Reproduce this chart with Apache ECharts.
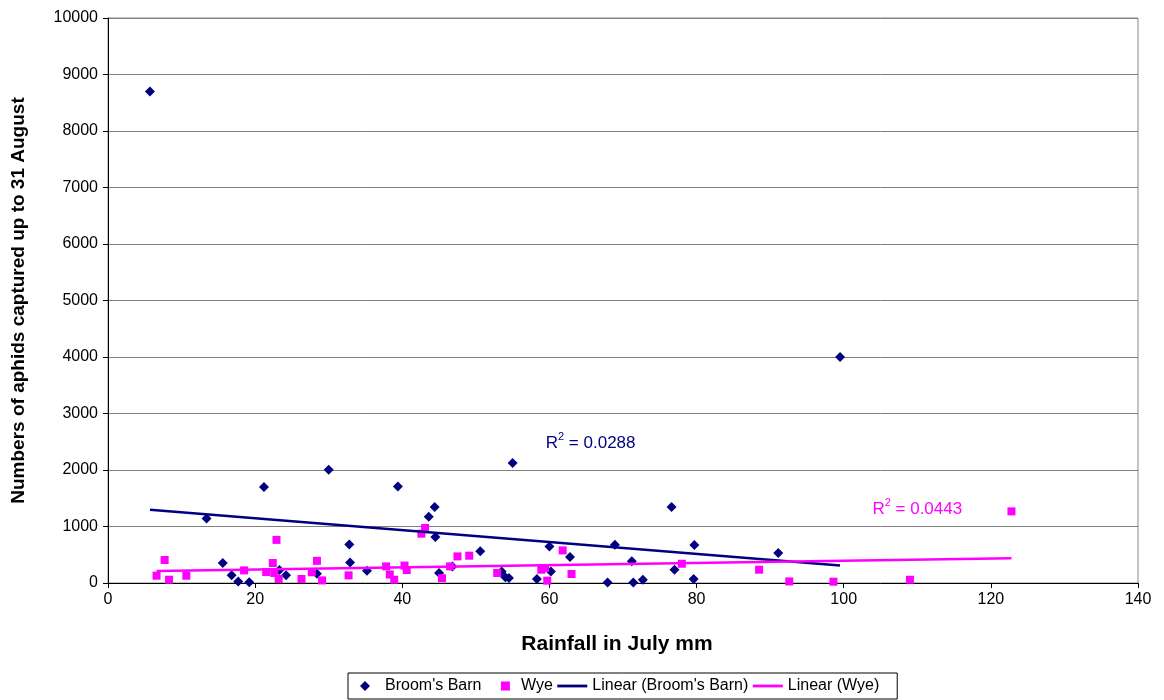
<!DOCTYPE html>
<html>
<head>
<meta charset="utf-8">
<script src="https://cdn.jsdelivr.net/npm/echarts@6/dist/echarts.min.js"></script>
<style>
html,body{margin:0;padding:0;background:#fff;}
#chart{width:1164px;height:700px;}
</style>
</head>
<body>
<div id="chart"></div>
<script>
// Rainfall in July (mm) and aphid counts, Broom's Barn
const broomsX = [5.7, 13.4, 15.6, 16.8, 17.7, 19.2, 21.2, 23.3, 24.2, 28.4, 30.0, 32.8, 32.9, 35.2, 39.4, 43.6, 44.4, 44.5, 45.0, 46.8, 50.6, 53.5, 54.0, 54.5, 55.0, 58.3, 60.0, 60.2, 62.8, 67.9, 68.9, 71.2, 71.4, 72.7, 76.6, 77.0, 79.7, 79.6, 91.1, 99.5];
const broomsY = [8700, 1140, 354, 138, 28, 14, 1700, 229, 138, 165, 2005, 683, 365, 218, 1710, 1173, 1345, 814, 177, 294, 560, 205, 100, 88, 2124, 71, 648, 205, 460, 10, 675, 383, 11, 58, 1345, 235, 672, 71, 531, 4000];
// Wye
const wyeX = [6.6, 7.7, 8.3, 10.65, 18.5, 21.5, 22.4, 22.6, 22.9, 23.2, 26.3, 27.7, 28.4, 29.1, 32.7, 37.8, 38.3, 38.9, 40.3, 40.6, 42.6, 43.1, 45.4, 46.5, 47.5, 49.1, 52.9, 58.9, 59.4, 59.7, 61.8, 63.0, 78.0, 88.5, 92.6, 98.6, 109.0, 122.8];
const wyeY = [129, 407, 58, 129, 223, 194, 354, 177, 763, 71, 71, 190, 392, 46, 135, 294, 150, 58, 309, 229, 873, 973, 85, 294, 471, 483, 177, 235, 265, 41, 577, 159, 341, 235, 28, 23, 58, 1268];
const seriesNames = ["Broom's Barn", "Wye", "Linear (Broom's Barn)", "Linear (Wye)"];
const r2Values = ["0.0288", "0.0443"];
const xTicks = [0, 20, 40, 60, 80, 100, 120, 140];
const yTicks = [0, 1000, 2000, 3000, 4000, 5000, 6000, 7000, 8000, 9000, 10000];

function pairs(xs, ys) { return xs.map((x, i) => [x, ys[i]]); }
function linFit(xs, ys) {
  const n = xs.length;
  let sx = 0, sy = 0, sxx = 0, sxy = 0;
  for (let i = 0; i < n; i++) { sx += xs[i]; sy += ys[i]; sxx += xs[i] * xs[i]; sxy += xs[i] * ys[i]; }
  const b = (n * sxy - sx * sy) / (n * sxx - sx * sx);
  const a = (sy - b * sx) / n;
  const x0 = Math.min(...xs), x1 = Math.max(...xs);
  return [[x0, a + b * x0], [x1, a + b * x1]];
}

const NAVY = '#000080', MAG = '#FF00FF';
const FONT = '"Liberation Sans", Arial, sans-serif';
// legend icons: invisible move-to points fix the 30x10 box so the shapes sit where wanted
const ICON_DIAMOND = 'path://M0,0M30,10M15,0L20,5L15,10L10,5Z';
const ICON_SQUARE = 'path://M0,0M30,10M15,0.5L24,0.5L24,9.5L15,9.5Z';
const ICON_LINE = 'path://M0,0M30,10M0,3.6L30,3.6L30,6.4L0,6.4Z';

const chart = echarts.init(document.getElementById('chart'), null, {renderer: 'canvas'});
chart.setOption({
  animation: false,
  backgroundColor: '#fff',
  textStyle: {fontFamily: FONT, color: '#000'},
  grid: {left: 108, right: 26, top: 18, bottom: 117, show: true, borderColor: '#888', borderWidth: 1},
  xAxis: {
    type: 'value', min: xTicks[0], max: xTicks[xTicks.length - 1], interval: 20,
    name: 'Rainfall in July mm', nameLocation: 'middle', nameGap: 51,
    nameTextStyle: {fontFamily: FONT, fontWeight: 'bold', fontSize: 21, color: '#000', padding: [0, 12, 0, 0]},
    axisLine: {show: true, lineStyle: {color: '#000', width: 1}},
    axisTick: {show: true, inside: false, length: 5, lineStyle: {color: '#000'}},
    axisLabel: {fontFamily: FONT, fontSize: 16, color: '#000', margin: 9},
    splitLine: {show: false}
  },
  yAxis: {
    type: 'value', min: yTicks[0], max: yTicks[yTicks.length - 1], interval: 1000,
    name: 'Numbers of aphids captured up to 31 August', nameLocation: 'middle', nameGap: 80,
    nameTextStyle: {fontFamily: FONT, fontWeight: 'bold', fontSize: 19, color: '#000'},
    axisLine: {show: true, lineStyle: {color: '#000', width: 1}},
    axisTick: {show: true, inside: false, length: 5, lineStyle: {color: '#000'}},
    axisLabel: {fontFamily: FONT, fontSize: 16, color: '#000', margin: 10, formatter: v => String(v)},
    splitLine: {show: true, lineStyle: {color: '#808080', width: 1}}
  },
  legend: {
    bottom: 1, left: 348,
    data: [
      {name: seriesNames[0], icon: ICON_DIAMOND},
      {name: seriesNames[1], icon: ICON_SQUARE},
      {name: seriesNames[2], icon: ICON_LINE},
      {name: seriesNames[3], icon: ICON_LINE}
    ],
    borderColor: '#000', borderWidth: 1, padding: [5, 18, 5, 2],
    itemGap: 4.5, itemWidth: 30, itemHeight: 10,
    textStyle: {fontFamily: FONT, fontSize: 16, color: '#000'}
  },
  series: [
    {name: seriesNames[0], type: 'scatter', symbol: 'diamond', symbolSize: 10,
     itemStyle: {color: NAVY, opacity: 1}, data: pairs(broomsX, broomsY), z: 3},
    {name: seriesNames[1], type: 'scatter', symbol: 'rect', symbolSize: 8,
     itemStyle: {color: MAG, opacity: 1}, data: pairs(wyeX, wyeY), z: 4},
    {name: seriesNames[2], type: 'line', symbol: 'none', data: linFit(broomsX, broomsY),
     lineStyle: {color: NAVY, width: 2.5}, itemStyle: {color: NAVY}, z: 5},
    {name: seriesNames[3], type: 'line', symbol: 'none', data: linFit(wyeX, wyeY),
     lineStyle: {color: MAG, width: 2.5}, itemStyle: {color: MAG}, z: 5}
  ]
});
const p1 = chart.convertToPixel({gridIndex: 0}, [59.5, 2500]);
const p2 = chart.convertToPixel({gridIndex: 0}, [103.9, 1333]);
function r2Text(val, color, pos) {
  return {
    type: 'text', x: pos[0], y: pos[1],
    style: {
      text: '{r|R}{s|2}{r| = ' + val + '}',
      fill: color, verticalAlign: 'middle',
      rich: {
        r: {fontFamily: FONT, fontSize: 17, color: color, lineHeight: 20, verticalAlign: 'bottom'},
        s: {fontFamily: FONT, fontSize: 11, color: color, lineHeight: 20, verticalAlign: 'top'}
      }
    }
  };
}
chart.setOption({
  graphic: [r2Text(r2Values[0], NAVY, p1), r2Text(r2Values[1], MAG, p2)]
});
</script>
</body>
</html>
